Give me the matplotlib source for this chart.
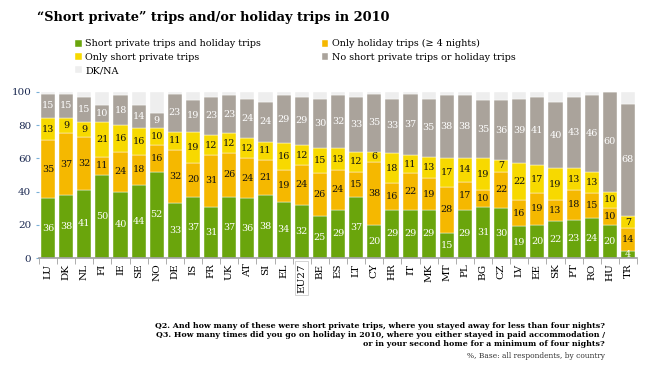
import matplotlib
matplotlib.use("Agg")
import matplotlib.pyplot as plt
import numpy as np

countries = ["LU", "DK", "NL", "FI", "IE", "SE", "NO", "DE", "IS", "FR", "UK",
             "AT", "SI", "EL", "EU27", "BE", "ES", "LT", "CY", "HR", "IT", "MK",
             "MT", "PL", "BG", "CZ", "LV", "EE", "SK", "PT", "RO", "HU", "TR"]

both_trips = [36, 38, 41, 50, 40, 44, 52, 33, 37, 31, 37,
              36, 38, 34, 32, 25, 29, 37, 20, 29, 29, 29,
              15, 29, 31, 30, 19, 20, 22, 23, 24, 20, 4]
only_holiday = [35, 37, 32, 11, 24, 18, 16, 32, 20, 31, 26,
                24, 21, 19, 24, 26, 24, 15, 38, 16, 22, 19,
                28, 17, 10, 22, 16, 19, 13, 18, 15, 10, 14]
only_short = [13, 9, 9, 21, 16, 16, 10, 11, 19, 12, 12,
              12, 11, 16, 12, 15, 13, 12, 6, 18, 11, 13,
              17, 14, 19, 7, 22, 17, 19, 13, 13, 10, 7]
no_trips = [15, 15, 15, 10, 18, 14, 9, 23, 19, 23, 23,
            24, 24, 29, 29, 30, 32, 33, 35, 33, 37, 35,
            38, 38, 35, 36, 39, 41, 40, 43, 46, 60, 68]

series_labels = ["Short private trips and holiday trips", "Only holiday trips (\u2265 4 nights)",
                 "Only short private trips", "No short private trips or holiday trips", "DK/NA"]
colors = ["#6aa50c", "#f5b800", "#f7d900", "#aaa39b", "#eeeeee"]
text_colors = ["white", "#111111", "#111111", "white", None]

plt.rcParams["font.family"] = ["DejaVu Serif"]

known = np.array([both_trips, only_holiday, only_short, no_trips], dtype=float)
dk_na = np.clip(100 - known.sum(axis=0), 0, None)
stack = np.vstack([known, dk_na])

fig = plt.figure(figsize=(6.5, 3.75), dpi=100)
ax = fig.add_axes([0.06, 0.312, 0.92, 0.443])

x = np.arange(len(countries))
bottom = np.zeros(len(countries))
handles = []
for i, vals in enumerate(stack):
    bars = ax.bar(x, vals, 0.78, bottom=bottom, color=colors[i],
                  edgecolor="white", linewidth=0.3)
    handles.append(bars)
    if text_colors[i] is not None:
        for xi, v, b in zip(x, vals, bottom):
            if v > 0:
                ax.text(xi, b + v / 2, f"{int(v)}", ha="center", va="center",
                        fontsize=6.9, color=text_colors[i])
    bottom += vals

ax.set_xlim(-0.5, len(countries) - 0.5)
ax.set_ylim(0, 100)
ax.set_yticks(range(0, 101, 20))
ax.tick_params(axis="y", labelsize=7.5, colors="#7ab0d8", labelcolor="#1c2a52", length=2)
ax.set_xticks(x)
ax.set_xticklabels(countries, rotation=90, fontsize=7.5)
ax.tick_params(axis="x", length=0, pad=4)
ax.set_xticks(np.arange(-0.5, len(countries), 1), minor=True)
ax.tick_params(axis="x", which="minor", length=4, color="#a0a0a0")
for side in ["top", "right", "left"]:
    ax.spines[side].set_visible(False)
ax.spines["bottom"].set_color("#a0a0a0")
ax.spines["bottom"].set_linewidth(1.2)

eu_label = ax.get_xticklabels()[countries.index("EU27")]
eu_label.set_bbox(dict(facecolor="white", edgecolor="#cccccc", linewidth=0.6, pad=1.5))

fig.text(0.057, 0.952, "\u201cShort private\u201d trips and/or holiday trips in 2010",
         fontsize=9.3, fontweight="bold", ha="left", va="center")

# column-wise fill: col 1 = both / only short / DK, col 2 = only holiday / none
order = [0, 2, 4, 1, 3]
fig.legend([handles[i] for i in order], [series_labels[i] for i in order],
           loc="upper left", bbox_to_anchor=(0.116, 0.895), ncol=2,
           frameon=False, fontsize=6.9, handlelength=0.7, handleheight=0.7,
           handletextpad=0.35, columnspacing=6.3, labelspacing=0.45,
           borderpad=0, borderaxespad=0)

notes = ("Q2. And how many of these were short private trips, where you stayed away for less than four nights?\n"
         "Q3. How many times did you go on holiday in 2010, where you either stayed in paid accommodation /\n"
         "or in your second home for a minimum of four nights?")
fig.text(0.931, 0.107, notes, fontsize=5.7, fontweight="bold", ha="right", va="center",
         linespacing=1.2)
fig.text(0.931, 0.05, "%, Base: all respondents, by country", fontsize=5.4,
         ha="right", va="center", color="#333333")

fig.savefig("out.png", dpi=100)
